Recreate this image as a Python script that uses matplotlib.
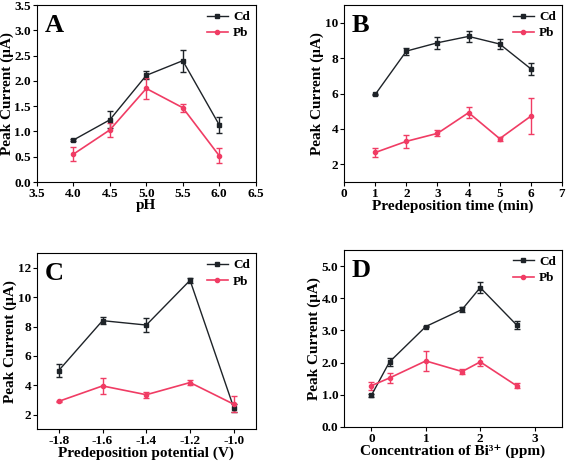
import numpy as np
import matplotlib
matplotlib.use("Agg")
import matplotlib.pyplot as plt
from matplotlib.lines import Line2D

plt.rcParams["font.family"] = ["Liberation Serif", "DejaVu Serif"]
plt.rcParams["font.weight"] = "bold"

# panel A: pH
ph = [4.0, 4.5, 5.0, 5.5, 6.0]
ph_cd = [0.83, 1.23, 2.11, 2.40, 1.13]
ph_cd_err = [0.02, 0.17, 0.08, 0.22, 0.16]
ph_pb = [0.55, 1.03, 1.85, 1.47, 0.52]
ph_pb_err = [0.14, 0.14, 0.20, 0.08, 0.15]

# panel B: predeposition time
time_min = [1, 2, 3, 4, 5, 6]
time_cd = [5.95, 8.40, 8.87, 9.23, 8.80, 7.40]
time_cd_err = [0.05, 0.20, 0.35, 0.30, 0.30, 0.35]
time_pb = [2.67, 3.30, 3.75, 4.92, 3.45, 4.72]
time_pb_err = [0.25, 0.38, 0.17, 0.30, 0.12, 1.03]

# panel C: predeposition potential
pot = [-1.8, -1.6, -1.4, -1.2, -1.0]
pot_cd = [5.0, 8.4, 8.1, 11.15, 2.45]
pot_cd_err = [0.45, 0.25, 0.50, 0.15, 0.30]
pot_pb = [2.9, 3.95, 3.35, 4.18, 2.7]
pot_pb_err = [0.05, 0.55, 0.20, 0.15, 0.55]

# panel D: Bi3+ concentration
bi = [0, 0.333, 1, 1.667, 2, 2.667]
bi_cd = [0.98, 2.02, 3.12, 3.65, 4.33, 3.17]
bi_cd_err = [0.04, 0.13, 0.03, 0.07, 0.18, 0.12]
bi_pb = [1.28, 1.52, 2.05, 1.72, 2.02, 1.28]
bi_pb_err = [0.12, 0.17, 0.32, 0.08, 0.14, 0.08]

cd_color = "#1e2328"
pb_color = "#f03c64"

fig = plt.figure(figsize=(5.67, 4.62), dpi=100)
ax_a = fig.add_axes([0.065, 0.606, 0.386, 0.383])
ax_b = fig.add_axes([0.607, 0.606, 0.384, 0.383])
ax_c = fig.add_axes([0.065, 0.071, 0.386, 0.381])
ax_d = fig.add_axes([0.607, 0.076, 0.384, 0.383])


def draw(ax, x, cd, cd_err, pb, pb_err, letter, xlabel):
    ax.errorbar(x, cd, yerr=cd_err, color=cd_color, marker="s", markersize=3,
                linewidth=1, capsize=2.5, elinewidth=1)
    ax.errorbar(x, pb, yerr=pb_err, color=pb_color, marker="o", markersize=3,
                linewidth=1.2, capsize=2.5, elinewidth=1)
    ax.set_xlabel(xlabel, fontsize=11, fontweight="bold", labelpad=-0.5)
    ax.set_ylabel("Peak Current (\u03bcA)", fontsize=11, fontweight="bold", labelpad=0.5)
    ax.text(0.035, 0.95, letter, transform=ax.transAxes, fontsize=19,
            fontweight="bold", va="top", ha="left")
    ax.tick_params(direction="out", labelsize=9.5, length=3, width=0.8, pad=1.2)
    for sp in ax.spines.values():
        sp.set_linewidth(0.8)
    handles = [Line2D([], [], color=cd_color, marker="s", markersize=3, linewidth=1),
               Line2D([], [], color=pb_color, marker="o", markersize=3, linewidth=1.2)]
    leg = ax.legend(handles, ["Cd", "Pb"], loc="upper right", frameon=False,
                    fontsize=9.5, handlelength=1.6, handletextpad=0.4,
                    borderaxespad=0.05, labelspacing=0.3)
    for t in leg.get_texts():
        t.set_fontweight("bold")


draw(ax_a, ph, ph_cd, ph_cd_err, ph_pb, ph_pb_err, "A", "pH")
ax_a.set_xlim(3.5, 6.5)
ax_a.set_ylim(0, 3.5)
ax_a.set_xticks(np.arange(3.5, 6.51, 0.5))
ax_a.set_yticks(np.arange(0, 3.51, 0.5))
ax_a.set_xticklabels([f"{v:.1f}" for v in np.arange(3.5, 6.51, 0.5)])
ax_a.set_yticklabels([f"{v:.1f}" for v in np.arange(0, 3.51, 0.5)])

draw(ax_b, time_min, time_cd, time_cd_err, time_pb, time_pb_err, "B",
     "Predeposition time (min)")
ax_b.set_xlim(0, 7)
ax_b.set_ylim(1, 11)
ax_b.set_xticks(range(0, 8))
ax_b.set_yticks([2, 4, 6, 8, 10])

draw(ax_c, pot, pot_cd, pot_cd_err, pot_pb, pot_pb_err, "C",
     "Predeposition potential (V)")
ax_c.set_xlim(-1.9, -0.9)
ax_c.set_ylim(1, 13)
ax_c.set_xticks(pot)
ax_c.set_xticklabels([f"{v:.1f}" for v in pot])
ax_c.set_yticks([2, 4, 6, 8, 10, 12])

draw(ax_d, bi, bi_cd, bi_cd_err, bi_pb, bi_pb_err, "D",
     "Concentration of Bi\u00b3\u207a (ppm)")
ax_d.set_xlim(-0.5, 3.5)
ax_d.set_ylim(0, 5.5)
ax_d.set_xticks([0, 1, 2, 3])
ax_d.set_yticks(np.arange(0, 5.01, 1))
ax_d.set_yticklabels([f"{v:.1f}" for v in np.arange(0, 5.01, 1)])

for ax in (ax_a, ax_b, ax_c, ax_d):
    for lab in ax.get_xticklabels() + ax.get_yticklabels():
        lab.set_fontweight("bold")

fig.savefig("out.png", dpi=100)
